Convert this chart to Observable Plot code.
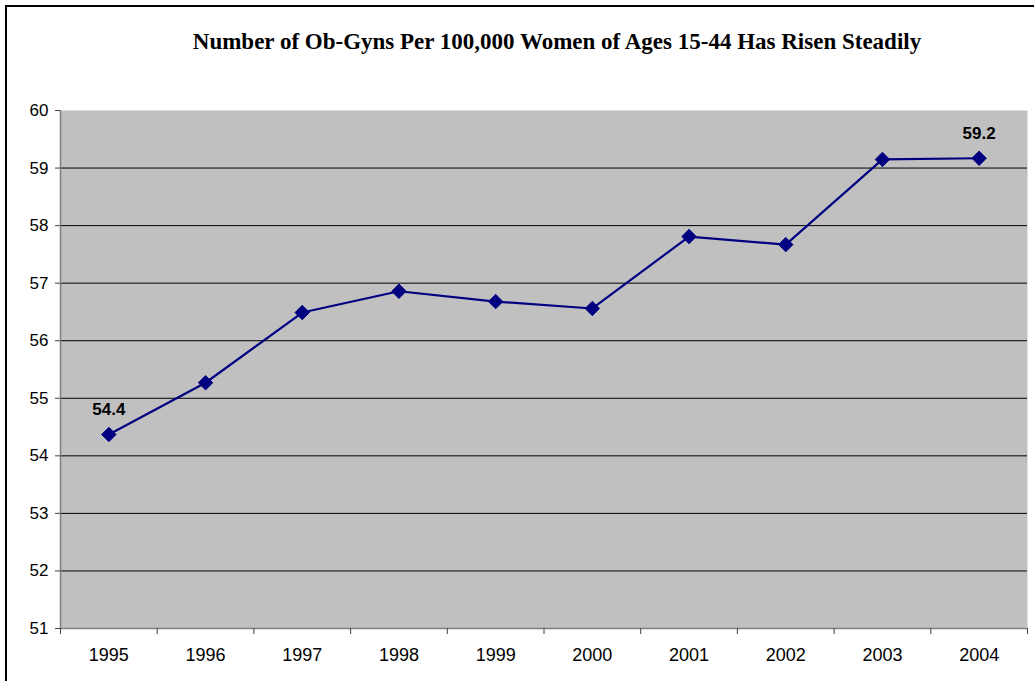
<!DOCTYPE html>
<html>
<head>
<meta charset="utf-8">
<script src="https://cdn.jsdelivr.net/npm/d3@7"></script>
<script src="https://cdn.jsdelivr.net/npm/@observablehq/plot@0.6"></script>
<style>
  html, body { margin: 0; padding: 0; background: #fff; }
  #wrap { position: relative; width: 1034px; height: 681px; overflow: hidden; }
  #frame { position: absolute; left: 5px; top: 5px; width: 1100px; height: 800px; border-left: 2px solid #000; border-top: 2px solid #000; }
  #title { position: absolute; left: 0; top: 29px; width: 1114px; text-align: center;
           font-family: "Liberation Serif", "Times New Roman", serif; font-weight: bold; font-size: 23px; color: #000; }
  #chart { position: absolute; left: 0; top: 0; }
</style>
</head>
<body>
<div id="wrap">
  <div id="frame"></div>
  <div id="title">Number of Ob-Gyns Per 100,000 Women of Ages 15-44 Has Risen Steadily</div>
  <div id="chart"></div>
</div>
<script>
const years = [1995, 1996, 1997, 1998, 1999, 2000, 2001, 2002, 2003, 2004];
const values = [54.37, 55.27, 56.49, 56.86, 56.68, 56.56, 57.81, 57.67, 59.15, 59.17];
const yTicks = [51, 52, 53, 54, 55, 56, 57, 58, 59, 60];
const gridValues = [52, 53, 54, 55, 56, 57, 58, 59];
const labeledYears = [1995, 2004];
const labelTexts = ["54.4", "59.2"];

const data = years.map((year, i) => ({year, value: values[i]}));
const labels = labeledYears.map((year, i) => ({year, value: values[years.indexOf(year)], text: labelTexts[i]}));
const boundaries = years.map(y => y - 0.5).concat([years[years.length - 1] + 0.5]);

const chart = Plot.plot({
  width: 1034,
  height: 681,
  marginLeft: 60,
  marginRight: 7,
  marginTop: 110,
  marginBottom: 53,
  style: { fontFamily: "'Liberation Sans', Arial, sans-serif", background: "transparent", color: "#000" },
  x: { type: "linear", domain: [years[0] - 0.5, years[years.length - 1] + 0.5] },
  y: { domain: [51, 60] },
  marks: [
    Plot.frame({ fill: "#c0c0c0", stroke: null }),
    Plot.ruleY(gridValues, { stroke: "#000", strokeWidth: 1 }),
    Plot.ruleY([51], { stroke: "#808080", strokeWidth: 1.5 }),
    Plot.ruleX([years[0] - 0.5], { stroke: "#808080", strokeWidth: 1.5 }),
    Plot.axisY({ ticks: yTicks, tickSize: 5, tickPadding: 7, fontSize: 17, stroke: "#404040", label: null, tickFormat: d => String(d) }),
    Plot.axisX({ ticks: boundaries, tickSize: 6, tickFormat: () => "", stroke: "#404040", label: null }),
    Plot.axisX({ ticks: years, tickSize: 0, tickPadding: 20, fontSize: 18, tickFormat: d => String(d), label: null }),
    Plot.line(data, { x: "year", y: "value", stroke: "#000080", strokeWidth: 2.2 }),
    Plot.dot(data, { x: "year", y: "value", symbol: "diamond2", r: 6.5, fill: "#000080", stroke: "#000080", strokeWidth: 1 }),
    Plot.text(labels, { x: "year", y: "value", text: "text", dy: -25, fontSize: 17, fontWeight: "bold", fill: "#000" })
  ]
});
document.getElementById("chart").appendChild(chart);
</script>
</body>
</html>
